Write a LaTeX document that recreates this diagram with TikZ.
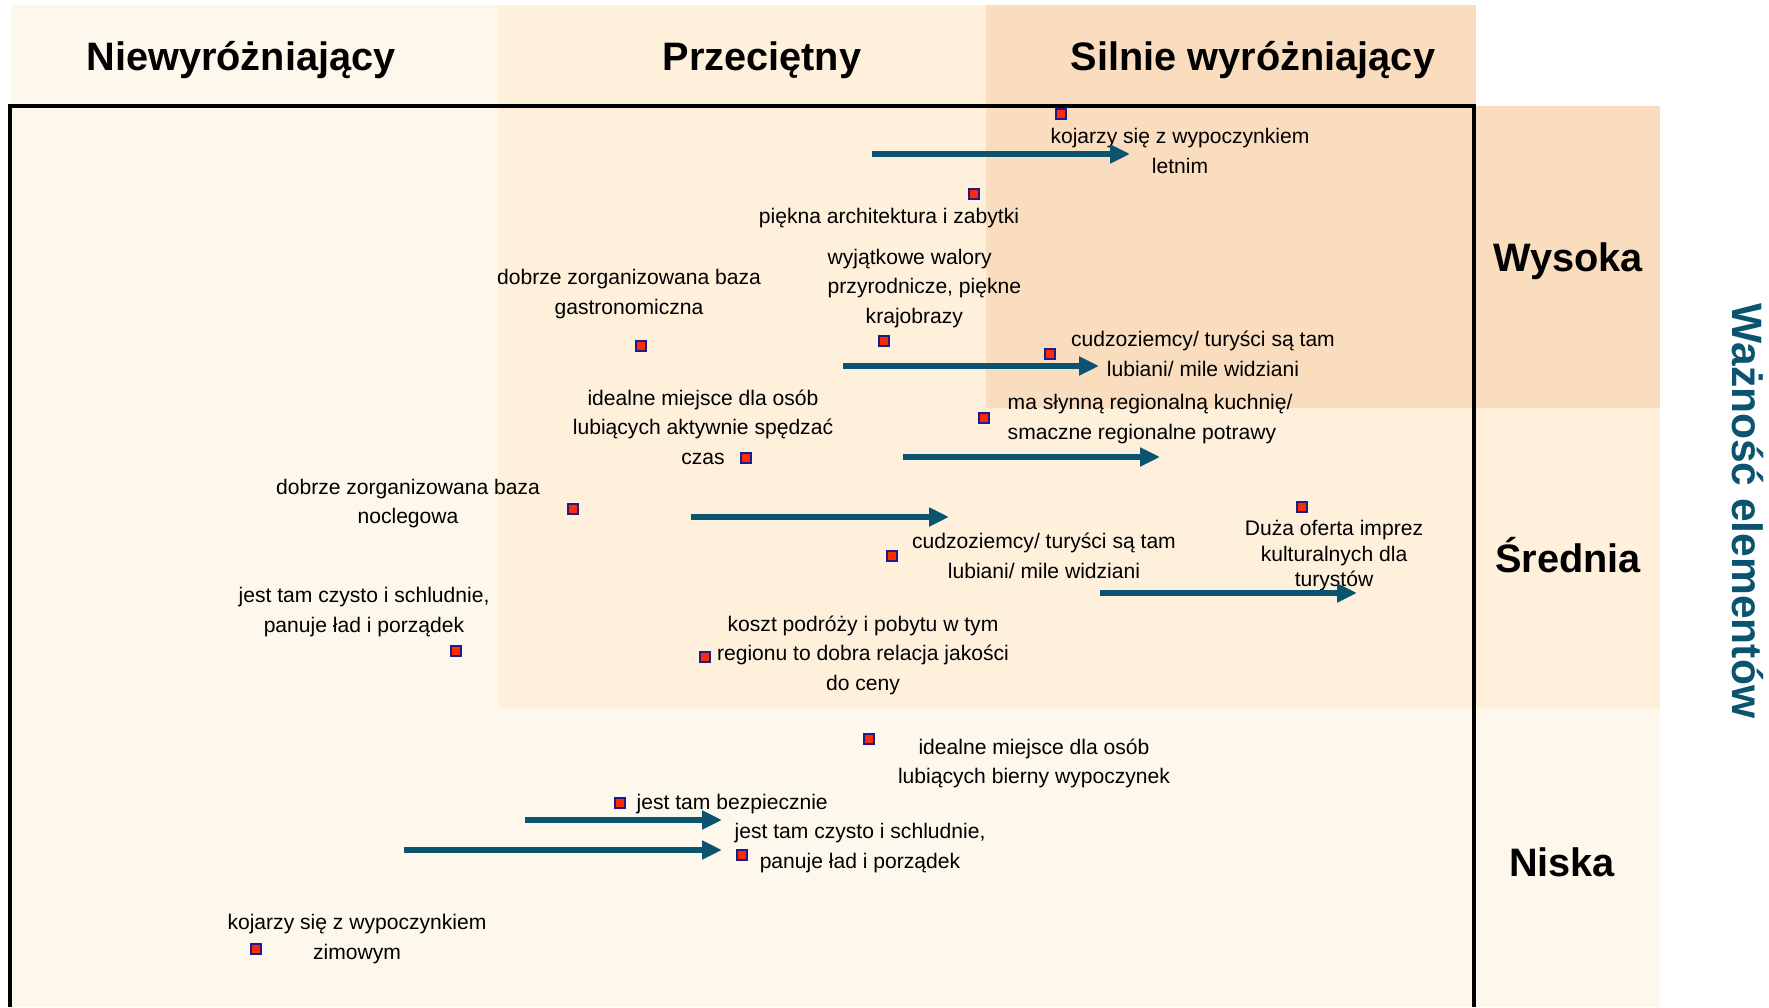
\documentclass[tikz,border=0pt]{standalone}
\usepackage{fontspec}
\setmainfont{Liberation Sans}
\usetikzlibrary{arrows.meta}
\definecolor{bgLight}{HTML}{FEF7EB}
\definecolor{bgMid}{HTML}{FEF0DB}
\definecolor{bgPeach}{HTML}{FADCBE}
\definecolor{shiftTeal}{HTML}{0B546F}
\definecolor{markRed}{HTML}{FF2A00}
\definecolor{markBlue}{HTML}{1C1C8C}

\begin{document}
\begin{tikzpicture}[
    pointbox/.style={draw=markBlue, fill=markRed, line width=0.7pt, minimum size=0.1cm, inner sep=0pt},
    desc/.style={font=\fontsize{6}{8.4}\selectfont, align=center, inner sep=0pt},
    headline/.style={font=\bfseries\fontsize{11.3}{13}\selectfont, anchor=base, inner sep=0pt},
    shiftarrow/.style={draw=shiftTeal, line width=1.7pt, -{Triangle[width=0.18cm, length=0.2cm]}}
  ]
  %%%%% BACKGROUND %%%%%
  \useasboundingbox (0, 0) rectangle (17.69, 10.07);
  
  \fill[bgLight] (0.11, 0) rectangle (16.6, 9.01);
  \fill[bgLight] (0.11, 9.01) rectangle (14.76, 10.02);
  \fill[bgMid] (4.98, 2.99) rectangle (9.86, 10.02);
  \fill[bgMid] (9.86, 2.99) rectangle (16.6, 5.99);
  \fill[bgPeach] (9.86, 5.99) rectangle (14.76, 10.02);
  \fill[bgPeach] (14.76, 5.99) rectangle (16.6, 9.01);
  
  \draw[line width=0.9pt] (0.1, 0) |- (14.74, 9.01) -- (14.74, 0);
  
  %%%%% HEADINGS %%%%%
  \node[headline] (hNie) at (2.41, 9.36) {Niewyróżniający};
  \node[headline] (hPrz) at (7.62, 9.36) {Przeciętny};
  \node[headline] (hSil) at (12.53, 9.36) {Silnie wyróżniający};
  
  \node[headline] (rWys) at (15.68, 7.35) {Wysoka};
  \node[headline] (rSre) at (15.68, 4.34) {Średnia};
  \node[headline] (rNis) at (15.62, 1.3) {Niska};
  
  \node[font=\bfseries\fontsize{12.1}{14}\selectfont, text=shiftTeal, rotate=-90, inner sep=0pt] (axis) at (17.48, 4.96) {Ważność elementów};
  
  %%%%% POINTS %%%%%
  \node[pointbox] (pLetnim) at (10.61, 8.93) {};
  \node[desc] (tLetnim) at (11.8, 8.56) {kojarzy się z wypoczynkiem\\letnim};
  
  \node[pointbox] (pArch) at (9.74, 8.13) {};
  \node[desc] (tArch) at (8.89, 7.89) {piękna architektura i zabytki};
  
  \node[pointbox] (pPrzyr) at (8.84, 6.66) {};
  \node[desc, anchor=west, align=left] (tPrzyr) at (8.27, 7.185) {wyjątkowe walory\\przyrodnicze, piękne\\\hspace*{0.38cm}krajobrazy};
  
  \node[pointbox] (pGastr) at (6.41, 6.61) {};
  \node[desc] (tGastr) at (6.29, 7.13) {dobrze zorganizowana baza\\gastronomiczna};
  
  \node[pointbox] (pCudzA) at (10.5, 6.53) {};
  \node[desc] (tCudzA) at (12.03, 6.53) {cudzoziemcy/ turyści są tam\\lubiani/ mile widziani};
  
  \node[pointbox] (pKuch) at (9.84, 5.89) {};
  \node[desc, anchor=west, align=left] (tKuch) at (10.07, 5.88) {ma słynną regionalną kuchnię/\\smaczne regionalne potrawy};
  
  \node[pointbox] (pAkt) at (7.46, 5.49) {};
  \node[desc] (tAkt) at (7.03, 5.8) {idealne miejsce dla osób\\lubiących aktywnie spędzać\\czas};
  
  \node[pointbox] (pNocl) at (5.73, 4.98) {};
  \node[desc] (tNocl) at (4.08, 5.035) {dobrze zorganizowana baza\\noclegowa};
  
  \node[pointbox] (pCudzB) at (8.92, 4.51) {};
  \node[desc] (tCudzB) at (10.44, 4.51) {cudzoziemcy/ turyści są tam\\lubiani/ mile widziani};
  
  \node[pointbox] (pImpr) at (13.02, 5) {};
  \node[desc, font=\fontsize{6}{7.25}\selectfont] (tImpr) at (13.34, 4.51) {Duża oferta imprez\\kulturalnych dla\\turystów};
  
  \node[pointbox] (pCzystA) at (4.56, 3.56) {};
  \node[desc] (tCzystA) at (3.64, 3.95) {jest tam czysto i schludnie,\\panuje ład i porządek};
  
  \node[pointbox] (pKoszt) at (7.05, 3.5) {};
  \node[desc] (tKoszt) at (8.63, 3.52) {koszt podróży i pobytu w tym\\regionu to dobra relacja jakości\\do ceny};
  
  \node[pointbox] (pBier) at (8.69, 2.68) {};
  \node[desc] (tBier) at (10.34, 2.435) {idealne miejsce dla osób\\lubiących bierny wypoczynek};
  
  \node[pointbox] (pBezp) at (6.2, 2.04) {};
  \node[desc, anchor=west] (tBezp) at (6.36, 2.03) {jest tam bezpiecznie};
  
  \node[pointbox] (pCzystB) at (7.42, 1.52) {};
  \node[desc] (tCzystB) at (8.6, 1.59) {jest tam czysto i schludnie,\\panuje ład i porządek};
  
  \node[pointbox] (pZim) at (2.56, 0.58) {};
  \node[desc] (tZim) at (3.57, 0.68) {kojarzy się z wypoczynkiem\\zimowym};
  
  %%%%% SHIFTS %%%%%
  \coordinate (sLetnim) at (8.72, 8.53);
  \coordinate (eLetnim) at (11.3, 8.53);
  \draw[shiftarrow] (sLetnim) -- (eLetnim);
  
  \coordinate (sCudzA) at (8.43, 6.41);
  \coordinate (eCudzA) at (10.99, 6.41);
  \draw[shiftarrow] (sCudzA) -- (eCudzA);
  
  \coordinate (sKuch) at (9.03, 5.5);
  \coordinate (eKuch) at (11.6, 5.5);
  \draw[shiftarrow] (sKuch) -- (eKuch);
  
  \coordinate (sNocl) at (6.91, 4.9);
  \coordinate (eNocl) at (9.49, 4.9);
  \draw[shiftarrow] (sNocl) -- (eNocl);
  
  \coordinate (sImpr) at (11, 4.14);
  \coordinate (eImpr) at (13.57, 4.14);
  \draw[shiftarrow] (sImpr) -- (eImpr);
  
  \coordinate (sBezp) at (5.25, 1.87);
  \coordinate (eBezp) at (7.22, 1.87);
  \draw[shiftarrow] (sBezp) -- (eBezp);
  
  \coordinate (sCzyst) at (4.04, 1.57);
  \coordinate (eCzyst) at (7.22, 1.57);
  \draw[shiftarrow] (sCzyst) -- (eCzyst);
  
  %%%%% END %%%%%
\end{tikzpicture}
\end{document}
